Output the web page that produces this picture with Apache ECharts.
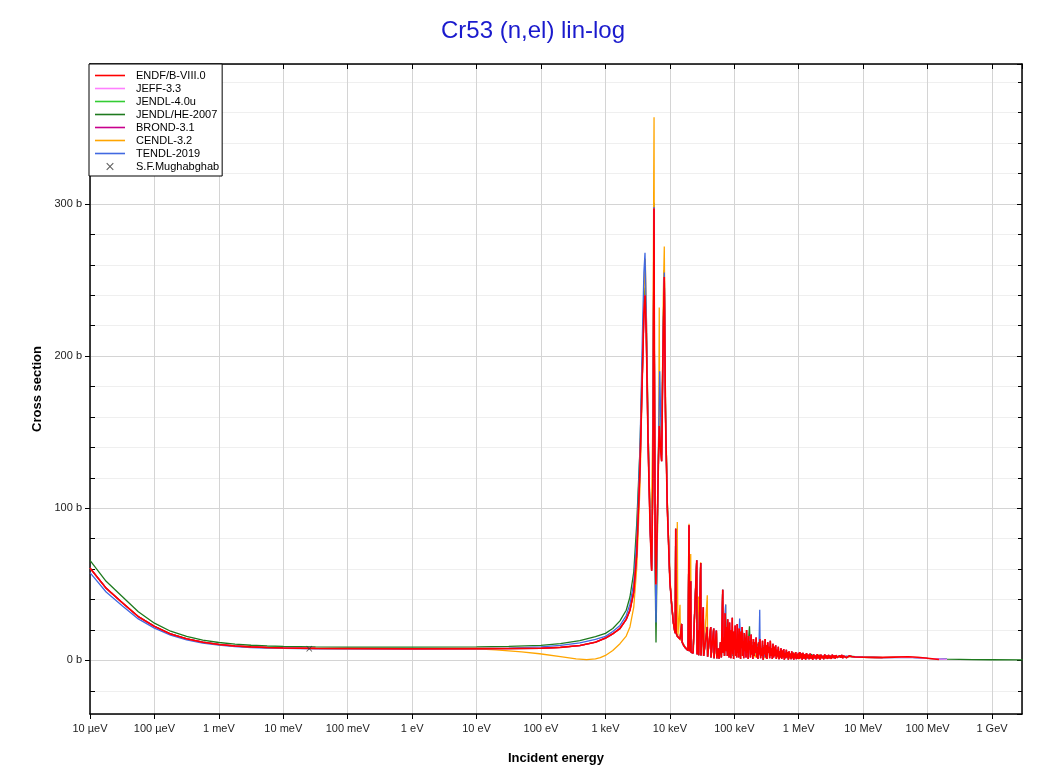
<!DOCTYPE html>
<html><head><meta charset="utf-8">
<script src="https://cdn.jsdelivr.net/npm/echarts@6/dist/echarts.min.js"></script>
<style>html,body{margin:0;padding:0;background:#fff}#c{width:1049px;height:774px}</style>
</head><body><div id="c"></div><script>
// ---------- tick labels ----------
const xTickLabels = ['10 µeV','100 µeV','1 meV','10 meV','100 meV','1 eV','10 eV','100 eV','1 keV','10 keV','100 keV','1 MeV','10 MeV','100 MeV','1 GeV'];
const yUnit = ' b';
const seriesNames = ['ENDF/B-VIII.0','JEFF-3.3','JENDL-4.0u','JENDL/HE-2007','BROND-3.1','CENDL-3.2','TENDL-2019','S.F.Mughabghab'];

// ---------- ENDF/B-VIII.0 (energy in eV, cross section in b) ----------
const endfLow = [[1e-5,60.7],[1.78e-5,47.5],[3.16e-5,38],[5.62e-5,28.8],[1e-4,22.4],[1.78e-4,17.4],[3.16e-4,14.2],[5.62e-4,12.0],[1e-3,10.5],[1.78e-3,9.5],[3.16e-3,8.9],[5.62e-3,8.5],[1e-2,8.2],[3.16e-2,7.9],[0.1,7.8],[1,7.7],[10,7.75],[31.6,7.8],[100,8.0],[200,8.6],[400,9.8],[700,12.0]];
const endfRes1 = [[1e3,14.7],[1.3e3,17.5],[1.68e3,21],[2.1e3,27],[2.4e3,33],[2.75e3,45],[3.06e3,70],[3.44e3,127],[3.75e3,190],[3.95e3,228],[4.11e3,240],[4.3e3,215],[4.6e3,140],[4.95e3,85],[5.21e3,59],[5.45e3,120],[5.62e3,260],[5.67e3,297],[5.75e3,200],[5.9e3,90],[6.05e3,50],[6.3e3,80],[6.6e3,125],[6.84e3,154],[7.15e3,140],[7.45e3,131],[7.8e3,200],[8.19e3,252],[8.55e3,160],[9.12e3,100]];
const endfRes2 = [[10.0e3,52],[10.6e3,38],[11.3e3,25],[11.8e3,20],[12.1e3,18],[12.31e3,86.6],[12.5e3,18],[13.0e3,16],[13.5e3,15],[14.4e3,14],[15.0e3,13],[15.25e3,24],[15.5e3,12],[16.3e3,10],[17.2e3,8.5],[18.2e3,7.3],[19.1e3,6.5],[19.82e3,88.8],[20.1e3,6],[21.06e3,52],[21.3e3,5.5],[22.9e3,4.8],[24.5e3,4],[26.09e3,65.8],[26.4e3,4],[27.63e3,20],[28e3,3.5],[30.08e3,64],[30.4e3,3.2],[33.02e3,35],[33.4e3,3],[35.5e3,2.6],[38.08e3,22],[38.5e3,2.5],[40.5e3,2.2],[43.03e3,22],[43.5e3,2],[45e3,1.8],[47.87e3,21],[48.5e3,1.5],[50.5e3,1.3],[52.7e3,19.7],[53.5e3,1.4],[56e3,8],[58e3,1.2],[61e3,12],[63e3,2],[66.04e3,46.5],[67e3,5],[69e3,15],[70.5e3,3],[72e3,31]];
// energies in keV
const endfNoiseKeV = [[74,31],[75,6],[76.5,22],[78,3],[79,27],[80.5,8],[82,18],[83,2],[84.5,25],[86,5],[87,14],[88.5,1.5],[90,20],[91.5,6],[93,28],[94.5,4],[96,15],[97.5,1],[99,19],[101,7],[103,23],[105,3],[107,12],[109,2],
[111,24],[113,5],[115,17],[117,2],[119,21],[121,6],[123,14],[125,1],[127,19],[130,8],[132,22],[135,3],[137,13],[140,1.5],[143,18],[146,6],[149,15],[152,2],[155,20],[158,5],[161,11],[164,1],[167,16],[170,7],[174,13],[178,2],[182,17],[186,4],[190,10],[194,1],[198,14],
[203,3],[208,12],[213,5],[218,15],[223,2],[228,9],[233,1],[238,12],[244,4],[250,14],[256,1.5],[262,8],[268,3],[274,13],[280,0.5],[287,9],[294,4],[301,14],[308,2],[315,10],[322,1],[330,12],[338,5],[346,9],[354,1.5],[362,13],[371,3],[380,8],[389,1],[398,11],
[408,2],[418,9],[428,3],[438,10],[449,1],[460,7],[471,2.5],[482,9],[494,0.8],[506,6],[518,2],[530,8],[543,1],[556,6.5],[570,2],[584,7.5],[598,0.5],[612,5],[627,1.5],[642,7],[658,2],[674,5.5],[690,0.5],[707,6],[724,2],[742,4.5],[760,0.8],[778,6],[797,1.5],[816,5],[836,0.5],[856,4.5],[877,1.5],[898,5.5],[920,0.8],[942,4],[965,1.2],[988,5],
[1010,1],[1040,5.5],[1070,1.5],[1100,4.5],[1130,0.5],[1160,5],[1200,1.2],[1240,4],[1280,0.6],[1320,4.8],[1360,1.5],[1400,3.8],[1450,0.8],[1500,4.5],[1550,1.2],[1600,3.5],[1650,0.5],[1700,4],[1760,1.5],[1820,3.2],[1880,0.8],[1940,4.2],[2000,1.4],[2070,3.5],[2140,0.6],[2210,3.8],[2290,1.5],[2370,3],[2450,0.8],[2530,4],[2620,1.5],[2710,3.2],[2800,1],[2900,3.6],[3000,1.5],[3100,3],[3200,1],[3320,3.8],[3440,1.6],[3560,3.2],[3680,1.2],[3800,3.5],[3930,1.8],[4070,3],[4210,1.3],[4350,3.2],
[4500,1.8],[4650,3.6],[4800,1.5],[4950,3],[5100,2],[5300,3.4],[5500,1.8],[5700,2.8],[5900,2],[6100,3],[6300,2.2],[6600,2.6],[7000,2.3]];
const endfTailKeV = [[7500,2.3],[10000,2.1],[15000,2.0],[20000,2.0],[30000,2.2],[50000,2.4],[70000,2.1],[100000,1.4],[150000,0.6]];

// ---------- JENDL/HE-2007 ----------
const heLow = [[1e-5,65.8],[1.78e-5,52],[3.16e-5,42],[5.62e-5,32],[1e-4,24.5],[1.78e-4,19.2],[3.16e-4,15.8],[5.62e-4,13.4],[1e-3,11.8],[1.78e-3,10.7],[3.16e-3,10.0],[5.62e-3,9.5],[1e-2,9.2],[3.16e-2,8.9],[0.1,8.8],[1,8.8],[10,8.9],[31.6,9.2],[100,9.9],[200,11],[400,13],[700,15.6]];
const heRes1 = [[1e3,17.8],[1.3e3,21],[1.68e3,26],[2.1e3,33],[2.4e3,41.7],[2.75e3,58],[3.06e3,90],[3.44e3,140],[3.75e3,200],[3.95e3,236],[4.11e3,245],[4.3e3,220],[4.6e3,150],[4.95e3,90],[5.21e3,60],[5.45e3,125],[5.62e3,265],[5.67e3,300.8],[5.76e3,180],[5.9e3,60],[6.09e3,11.8],[6.3e3,60],[6.6e3,130],[6.84e3,158],[7.15e3,145],[7.45e3,135],[7.8e3,205],[8.19e3,256.6],[8.55e3,165],[9.12e3,105]];
const heNoiseKeV = [[75,20],[80,4],[88,16],[95,3],[105,18],[115,5],[123,14],[132,3],[145,17],[160,4],[172,22.4],[178,5],[190,12],[205,3],[225,11],[250,4],[280,10],[310,2],[350,9],[400,3],[450,7],[520,2],[600,6],[700,1.5],[820,5],[950,1.5],[1100,4.5],[1300,1.2],[1550,4],[1800,1.5],[2100,3.5],[2500,1.5],[3000,3.2],[3600,1.8],[4300,3],[5200,2.2],[6300,2.8],[7500,2.5],[10000,2.2],[20000,1.9],[50000,2.2],[100000,1.3],[200000,0.8],[500000,0.5],[1000000,0.45],[3000000,0.4]];

// ---------- TENDL-2019 ----------
const tendlLow = [[1e-5,57.7],[1.78e-5,45],[3.16e-5,36],[5.62e-5,27.3],[1e-4,21.2],[1.78e-4,16.6],[3.16e-4,13.5],[5.62e-4,11.4],[1e-3,10.0],[1.78e-3,9.1],[3.16e-3,8.5],[5.62e-3,8.1],[1e-2,7.9],[3.16e-2,7.7],[0.1,7.6],[1,7.6],[10,7.7],[31.6,8.1],[100,8.9],[200,9.9],[400,11.6],[700,13.8]];
const tendlRes1 = [[1e3,15.8],[1.3e3,19],[1.68e3,23],[2.1e3,29.5],[2.4e3,37],[2.75e3,51],[3.06e3,80],[3.44e3,140],[3.75e3,215],[3.95e3,255],[4.11e3,268],[4.3e3,230],[4.6e3,150],[4.95e3,88],[5.21e3,62],[5.45e3,125],[5.62e3,262],[5.67e3,298],[5.76e3,190],[5.9e3,65],[6.09e3,25],[6.4e3,90],[6.7e3,150],[6.95e3,190],[7.2e3,160],[7.45e3,140],[7.8e3,210],[8.19e3,255],[8.55e3,165],[9.12e3,103]];
const tendlNoiseKeV = [[73.5,36.8],[74.5,8],[78,18],[85,4],[92,20],[100,5],[108,17],[116,6],[121,27.6],[123,27],[126,8],[135,19],[145,4],[155,16],[165,3],[180,14],[200,4],[220,11],[240,3],[248,33.3],[252,4],[275,10],[300,2],[340,9],[380,3],[430,8],[500,2],[580,6],[680,1.5],[800,5],[950,1.2],[1150,4.2],[1400,1.3],[1700,3.8],[2000,1.5],[2500,3.2],[3000,1.7],[3700,3],[4500,2.2],[5500,2.8],[7000,2.4],[10000,2.1],[20000,1.8],[50000,2.0],[100000,1.3],[200000,0.8]];

// ---------- CENDL-3.2 ----------
const cendlLowTail = [[10,7.6],[20,7.0],[50,5.6],[95,4.4],[200,2.5],[350,1.0],[510,0.5],[700,1.0],[832,1.8]];
const cendlRes1 = [[1e3,3.3],[1.3e3,6.5],[1.68e3,11],[2.1e3,16],[2.4e3,22],[2.75e3,35],[3.06e3,61],[3.44e3,115],[3.75e3,190],[3.95e3,240],[4.15e3,264],[4.35e3,220],[4.65e3,140],[4.95e3,95],[5.12e3,79],[5.4e3,150],[5.62e3,320],[5.68e3,357],[5.76e3,200],[5.9e3,80],[6.09e3,40],[6.4e3,80],[6.7e3,150],[6.84e3,232],[6.95e3,160],[7.3e3,140],[7.6e3,170],[7.9e3,240],[8.19e3,272],[8.55e3,170],[9.12e3,105]];
const cendlRes2 = [[10.0e3,55],[10.6e3,38],[11.3e3,26],[12.0e3,20],[12.31e3,80],[12.5e3,20],[13.04e3,91],[13.3e3,16],[14.36e3,36.6],[14.6e3,13],[15.25e3,22],[15.6e3,12],[17.2e3,9],[19.1e3,7],[19.82e3,89.8],[20.1e3,6.5],[21.06e3,70],[21.4e3,5.5],[23e3,5],[26.09e3,62],[26.4e3,4],[27.63e3,42],[28e3,3.5],[30.08e3,64.5],[30.4e3,3.2],[33.02e3,33],[33.4e3,3],[38.08e3,42.8],[38.5e3,2.5],[43.03e3,20],[43.5e3,2],[47.87e3,20],[48.5e3,1.5],[53e3,18],[54e3,1.4],[61e3,11],[63e3,2],[66.04e3,44],[67e3,5],[73.5e3,36.8],[74e3,5]];
const cendlNoiseKeV = [[75,18],[82,3],[90,15],[100,4],[110,16],[125,3],[140,13],[160,2],[185,12],[210,2],[250,10],[300,1.5],[360,8],[450,1.5],[550,6],[700,1],[850,5],[1000,1],[1300,4],[1600,1.2],[2000,3.5],[2600,1.5],[3300,3],[4200,2],[5500,2.6],[7000,2.3],[10000,2.1],[15000,1.9],[20000,1.8]];

// ---------- other evaluations: tails beyond the shared resonance data (keV) ----------
const jeffTailKeV = [[7500,2.3],[10000,2.1],[20000,1.9],[50000,2.2],[100000,1.3],[200000,0.7]];
const jendl40TailKeV = [[7500,2.3],[10000,2.1],[20000,1.9]];
const brondTailKeV = [[7500,2.3],[10000,2.1],[20000,1.9]];

// ---------- S.F.Mughabghab thermal point ----------
const mughabghab = [[0.0253,7.7]];

// ---------- build ----------
const fromKeV = a => a.map(p => [p[0] * 1e3, p[1]]);
const toLog = a => a.map(p => [Math.log10(p[0]), p[1]]);

const endfData = [].concat(endfLow, endfRes1, endfRes2, fromKeV(endfNoiseKeV), fromKeV(endfTailKeV));
const jeffData = [].concat(endfLow, endfRes1, endfRes2, fromKeV(endfNoiseKeV), fromKeV(jeffTailKeV));
const jendl40Data = [].concat(endfLow, endfRes1, endfRes2, fromKeV(endfNoiseKeV), fromKeV(jendl40TailKeV));
const brondData = [].concat(endfLow, endfRes1, endfRes2, fromKeV(endfNoiseKeV), fromKeV(brondTailKeV));
const heData = [].concat(heLow, heRes1, endfRes2, fromKeV(heNoiseKeV));
const tendlData = [].concat(tendlLow, tendlRes1, endfRes2, fromKeV(tendlNoiseKeV));
const cendlData = [].concat(endfLow.filter(p => p[0] <= 1), cendlLowTail, cendlRes1, cendlRes2, fromKeV(cendlNoiseKeV));

const colors = {
  'ENDF/B-VIII.0': '#ff0000', 'JEFF-3.3': '#ff80ff', 'JENDL-4.0u': '#33cc33',
  'JENDL/HE-2007': '#1e7a1e', 'BROND-3.1': '#c8008c', 'CENDL-3.2': '#ffa500',
  'TENDL-2019': '#4169e1', 'S.F.Mughabghab': '#333333'
};
function lineSeries(name, data, width, z) {
  return { name, type: 'line', data: toLog(data), showSymbol: false, symbol: 'none',
    lineStyle: { color: colors[name], width }, itemStyle: { color: colors[name] },
    silent: true, animation: false, z, emphasis: { disabled: true } };
}
const FONT = 'Liberation Sans, Arial, sans-serif';
const xPath = 'path://M0,1L1,0L5,4L9,0L10,1L6,5L10,9L9,10L5,6L1,10L0,9L4,5Z';
// legend icons: a thin bar for the curves, a smaller X (padded bounding box) for the point data
const lineIcon = 'path://M0,0H30V1.6H0Z';
const xIcon = 'path://M-2.5,-2.5h0.01v0.01h-0.01Z M12.5,12.5h0.01v0.01h-0.01Z M0,1L1,0L5,4L9,0L10,1L6,5L10,9L9,10L5,6L1,10L0,9L4,5Z';
const xMin = -5, xMax = 9.465, yMin = -35.2, yMax = 392;

const chart = echarts.init(document.getElementById('c'), null, { renderer: 'canvas' });
chart.setOption({
  animation: false,
  backgroundColor: '#fff',
  title: { text: 'Cr53 (n,el) lin-log', left: 441, top: 19, padding: 0,
    textStyle: { color: '#1a1acd', fontSize: 24, fontWeight: 'normal', fontFamily: FONT } },
  legend: {
    orient: 'vertical', left: 89, top: 64, padding: [6, 3, 4, 6],
    backgroundColor: '#fff', borderColor: '#000', borderWidth: 1,
    itemWidth: 30, itemHeight: 11, itemGap: 2, selectedMode: false, symbolKeepAspect: true,
    textStyle: { fontSize: 11, fontFamily: FONT, color: '#000', lineHeight: 11, padding: [0, 0, 0, 6] },
    data: seriesNames.map(n => ({ name: n, icon: n === 'S.F.Mughabghab' ? xIcon : lineIcon }))
  },
  grid: { left: 90, right: 27, top: 64, bottom: 60, containLabel: false },
  xAxis: [
    { type: 'value', position: 'bottom', min: xMin, max: xMax, interval: 1,
      name: 'Incident energy', nameLocation: 'middle', nameGap: 38,
      nameTextStyle: { fontSize: 13, fontWeight: 'bold', fontFamily: FONT, color: '#000' },
      axisLine: { show: true, onZero: false, lineStyle: { color: '#000', width: 1.5 } },
      axisTick: { show: true, length: 5, lineStyle: { color: '#000' } },
      axisLabel: { fontSize: 11, fontFamily: FONT, color: '#222', margin: 9, showMaxLabel: false,
        formatter: v => { const i = Math.round(v - xMin); return Math.abs(v - xMin - i) < 1e-6 && xTickLabels[i] ? xTickLabels[i] : ''; } },
      splitLine: { show: true, lineStyle: { color: '#d4d4d4', width: 1 } } },
    { type: 'value', position: 'top', min: xMin, max: xMax, interval: 1,
      axisLine: { show: true, onZero: false, lineStyle: { color: '#000', width: 1.5 } },
      axisTick: { show: true, inside: true, length: 5, lineStyle: { color: '#000' } },
      axisLabel: { show: false }, splitLine: { show: false } }
  ],
  yAxis: [
    { type: 'value', position: 'left', min: yMin, max: yMax,
      name: 'Cross section', nameLocation: 'middle', nameGap: 46,
      nameTextStyle: { fontSize: 13, fontWeight: 'bold', fontFamily: FONT, color: '#000' },
      axisLine: { show: true, onZero: false, lineStyle: { color: '#000', width: 1.5 } },
      axisTick: { show: true, length: 5, lineStyle: { color: '#000' } },
      axisLabel: { fontSize: 11, fontFamily: FONT, color: '#222', margin: 8, showMinLabel: false, showMaxLabel: false,
        formatter: v => Math.abs(v - Math.round(v)) < 1e-6 ? v + yUnit : '' },
      splitLine: { show: true, lineStyle: { color: '#d4d4d4', width: 1 } },
      minorSplitLine: { show: true, lineStyle: { color: '#efefef', width: 1 } } },
    { type: 'value', position: 'right', min: yMin, max: yMax,
      axisLine: { show: true, onZero: false, lineStyle: { color: '#000', width: 1.5 } },
      axisTick: { show: true, inside: true, length: 5, lineStyle: { color: '#000' } },
      minorTick: { show: true, length: 4, lineStyle: { color: '#000' } },
      axisLabel: { show: false }, splitLine: { show: false } },
    { type: 'value', position: 'left', min: yMin, max: yMax,
      axisLine: { show: false, onZero: false }, axisTick: { show: false, inside: true },
      minorTick: { show: true, length: 5, lineStyle: { color: '#000' } },
      axisLabel: { show: false }, splitLine: { show: false } }
  ],
  series: [
    lineSeries('JENDL/HE-2007', heData, 1.3, 2),
    lineSeries('CENDL-3.2', cendlData, 1.3, 3),
    lineSeries('TENDL-2019', tendlData, 1.3, 4),
    lineSeries('JENDL-4.0u', jendl40Data, 1.3, 5),
    lineSeries('JEFF-3.3', jeffData, 1.3, 6),
    lineSeries('BROND-3.1', brondData, 1.3, 7),
    lineSeries('ENDF/B-VIII.0', endfData, 1.6, 8),
    { name: 'S.F.Mughabghab', type: 'scatter', data: toLog(mughabghab), symbol: xPath, symbolSize: 6,
      itemStyle: { color: colors['S.F.Mughabghab'] }, silent: true, z: 9 }
  ]
});
</script></body></html>
